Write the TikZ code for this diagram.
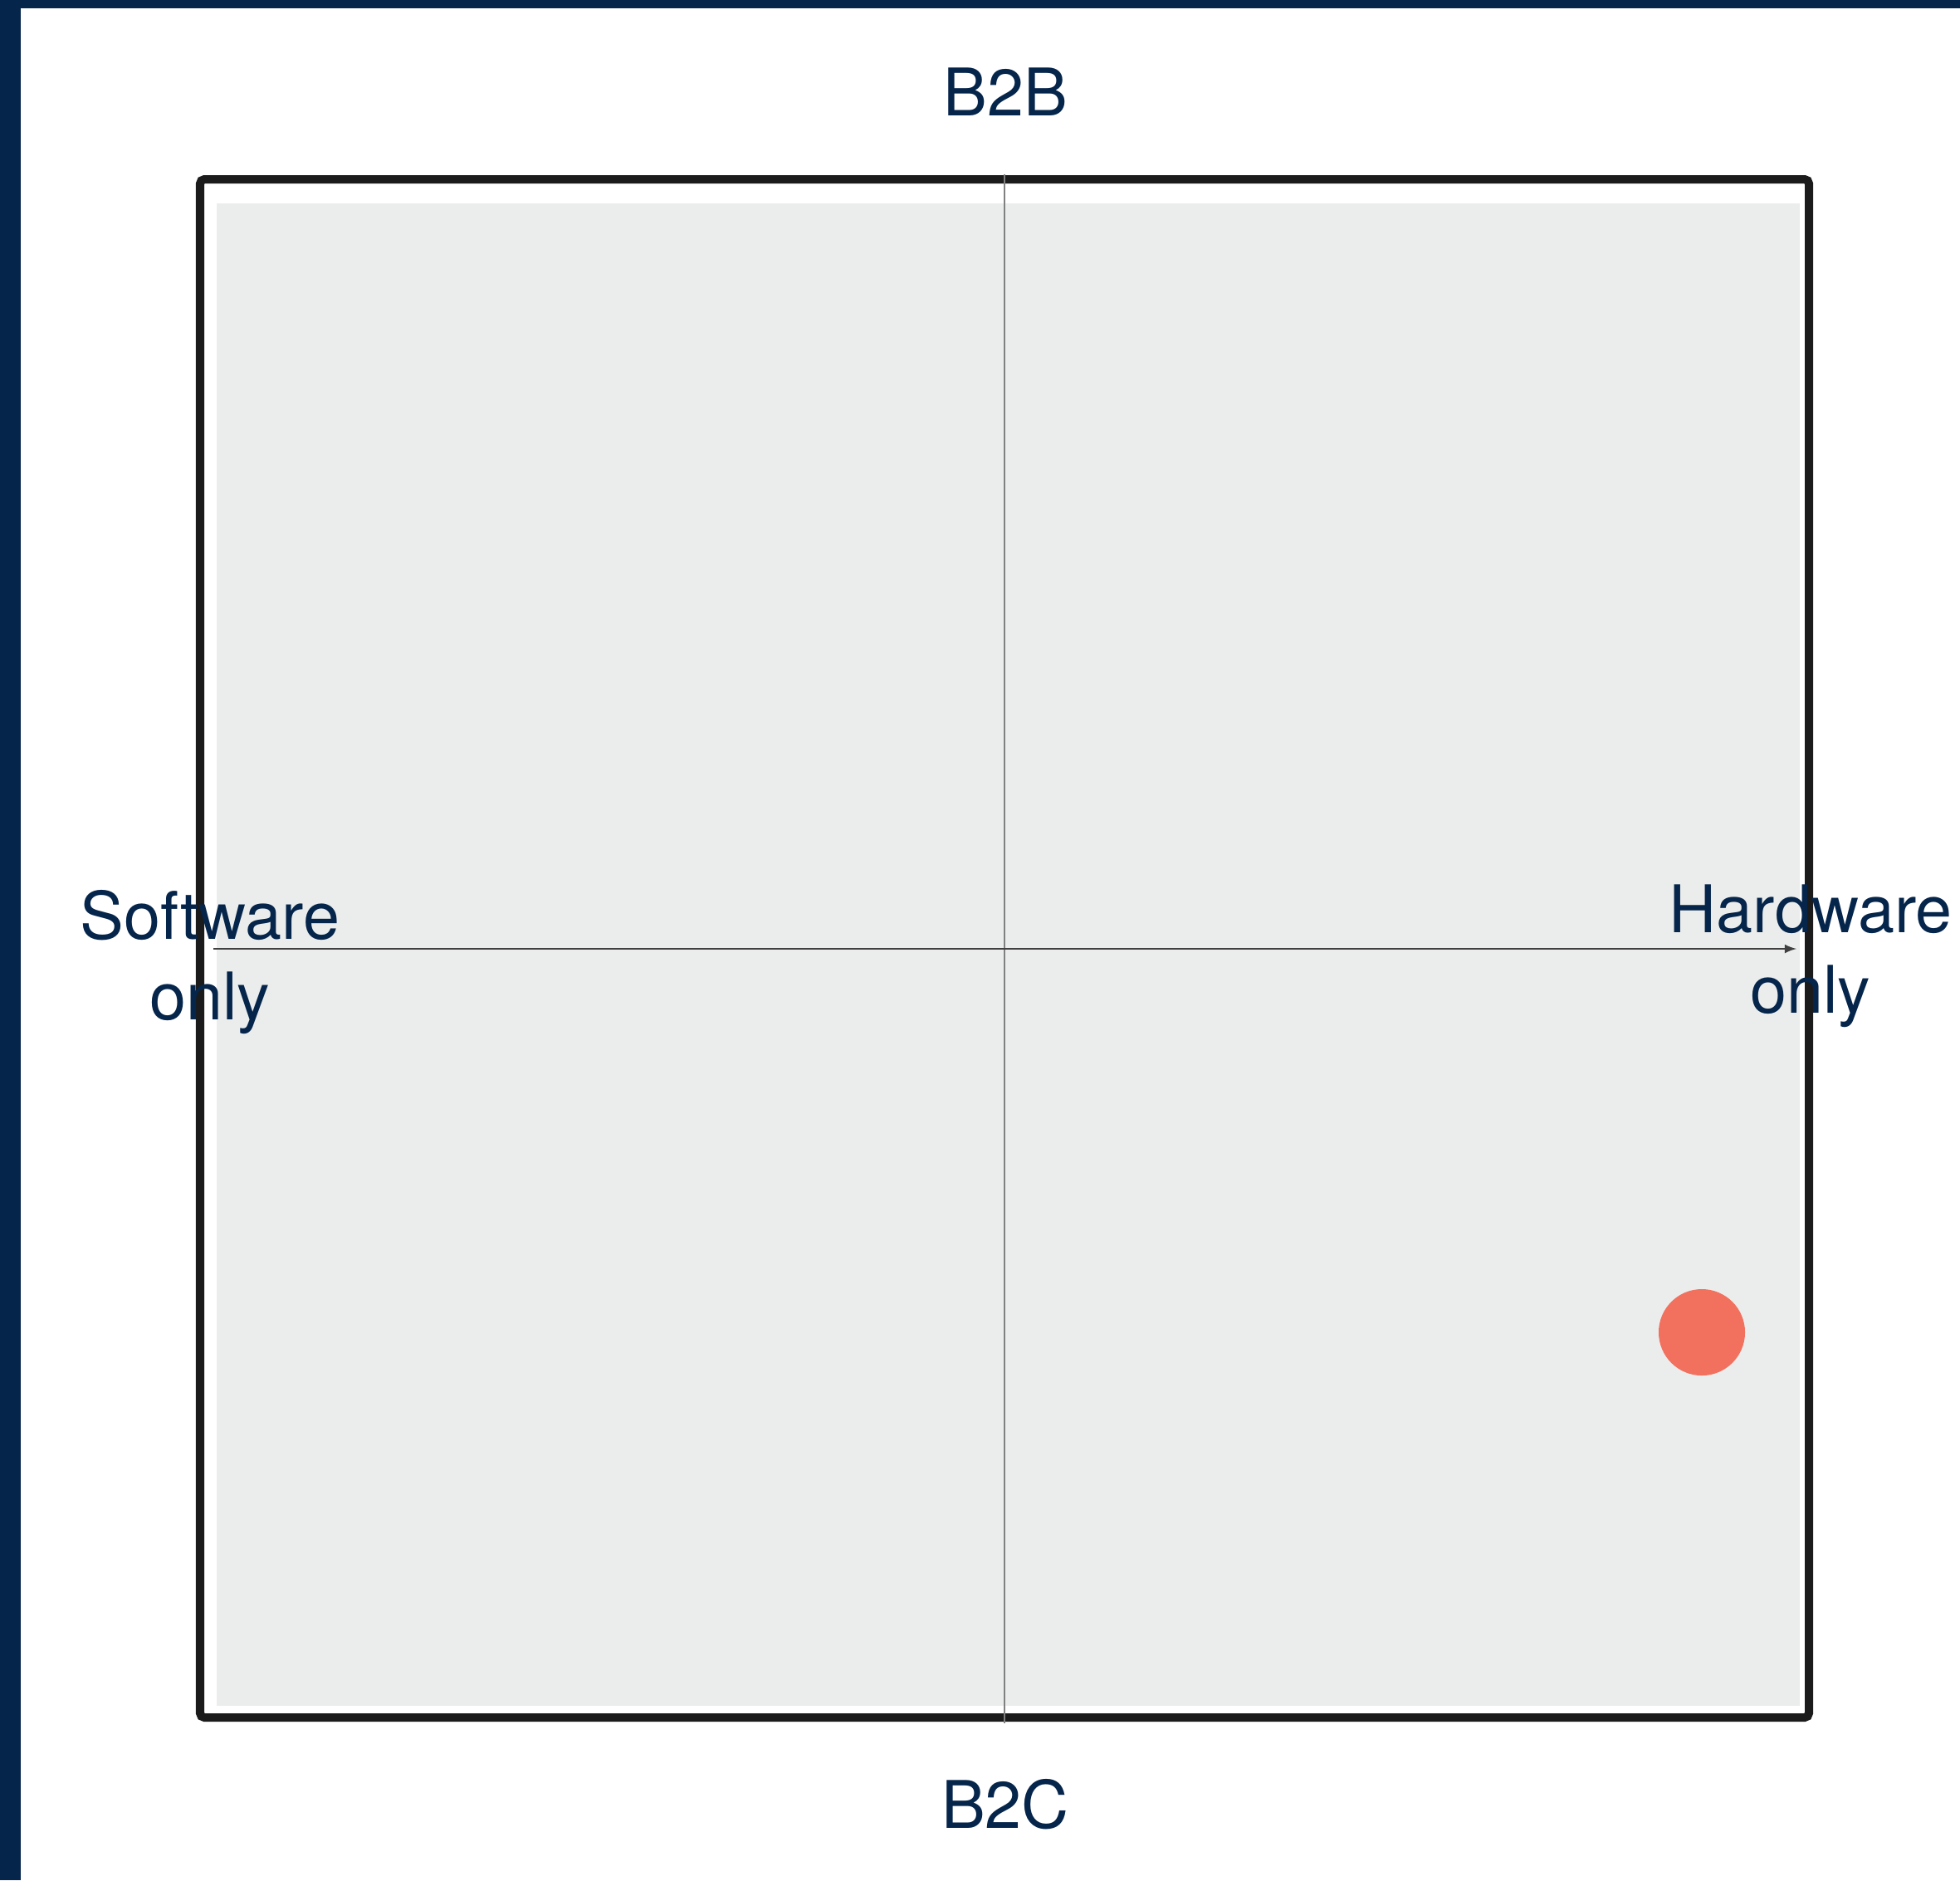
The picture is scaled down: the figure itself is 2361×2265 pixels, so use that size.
\documentclass[tikz,border=0pt]{standalone}
\usepackage{fontspec}
\setmainfont{TeX Gyre Heros}
\usepackage{tikz}
\usetikzlibrary{arrows}
\usepackage{xcolor}
\definecolor{navy}{HTML}{05254B}
\definecolor{quadgray}{HTML}{EBEDEC}
\definecolor{framegray}{HTML}{1B1B1B}
\definecolor{dotred}{HTML}{F2705E}
\tikzset{>=latex}

\begin{document}
\begin{tikzpicture}[x=0.01cm, y=-0.01cm]
                        % 1 unit = 1 px of the reference, y grows downwards
                        \tikzstyle{axislabel}=[text=navy, inner sep=0pt, anchor=base, align=center,
                                font=\fontsize{22.5}{27.5}\selectfont]
                        \tikzstyle{axisline}=[line width=0.4pt]
                        \useasboundingbox (0,0) rectangle (2361,2265);
                        \fill[white] (0,0) rectangle (2361,2265);
                        \fill[navy] (0,0) rectangle (2361,10);
                        \fill[navy] (0,0) rectangle (25,2265);

                        \fill[quadgray] (261,245) rectangle (2168,2055);
                        \draw[framegray, line width=2.85pt, rounded corners=1.5pt] (241,216) rectangle (2179,2069);

                        \coordinate (top) at (1210,210);
                        \coordinate (bottom) at (1210,2076);
                        \coordinate (left) at (257,1143);
                        \coordinate (right) at (2164,1143);
                        \draw[axisline, black!50] (top) -- (bottom);
                        \draw[axisline, black!75, -latex] (left) -- (right);

                        % base of a two-line label sits on its last line
                        \node[axislabel] (btob) at (1211,139) {B2B};
                        \node[axislabel] (btoc) at (1211,2202) {B2C};
                        \node[axislabel] (soft) at (253,1228) {Software\\only};
                        \node[axislabel] (hard) at (2181,1220) {Hardware\\only};

                        \node[circle, fill=dotred, inner sep=0pt, minimum size=1.04cm] (dot) at (2050,1605) {};
                \end{tikzpicture}
\end{document}
